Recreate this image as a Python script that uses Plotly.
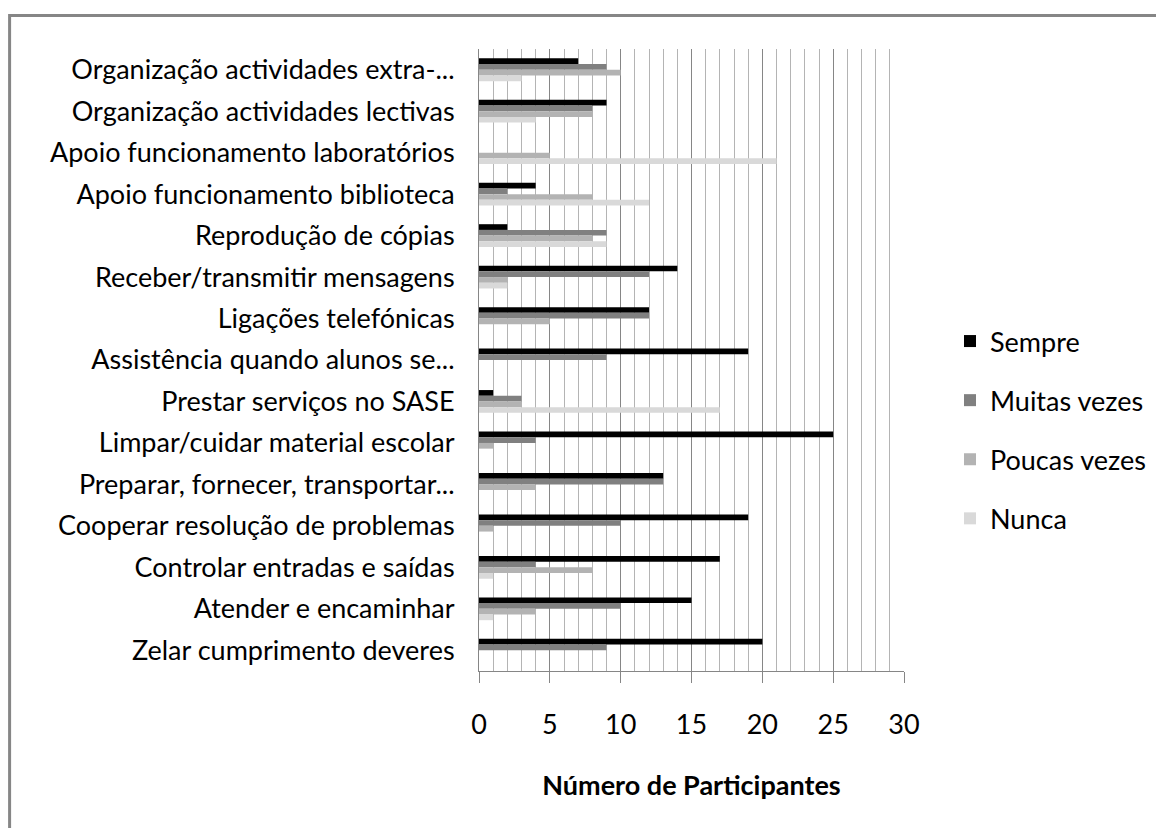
import plotly.graph_objects as go

categories = [
    "Organização actividades extra-...",
    "Organização actividades lectivas",
    "Apoio funcionamento laboratórios",
    "Apoio funcionamento biblioteca",
    "Reprodução de cópias",
    "Receber/transmitir mensagens",
    "Ligações telefónicas",
    "Assistência quando alunos se...",
    "Prestar serviços no SASE",
    "Limpar/cuidar material escolar",
    "Preparar, fornecer, transportar...",
    "Cooperar resolução de problemas",
    "Controlar entradas e saídas",
    "Atender e encaminhar",
    "Zelar cumprimento deveres",
]

sempre = [7, 9, 0, 4, 2, 14, 12, 19, 1, 25, 13, 19, 17, 15, 20]
muitas_vezes = [9, 8, 0, 2, 9, 12, 12, 9, 3, 4, 13, 10, 4, 10, 9]
poucas_vezes = [10, 8, 5, 8, 8, 2, 5, 0, 3, 1, 4, 1, 8, 4, 0]
nunca = [3, 4, 21, 12, 9, 2, 0, 0, 17, 0, 0, 0, 1, 1, 0]

series_names = ["Sempre", "Muitas vezes", "Poucas vezes", "Nunca"]
series_values = [sempre, muitas_vezes, poucas_vezes, nunca]
series_colors = ["#000000", "#808080", "#b3b3b3", "#d9d9d9"]

x_ticks = [0, 5, 10, 15, 20, 25, 30]
x_title = "Número de Participantes"

FONT = "Lato"
FS = 27
OFF = 8  # page body margin
W, H = 1164 - 2 * OFF, 836 - 2 * OFF
L, R, T, B = 479 - OFF, 904 - OFF, 49 - OFF, 671 - OFF

fig = go.Figure()
for name, vals, col in zip(series_names, series_values, series_colors):
    fig.add_trace(go.Bar(
        y=categories, x=vals, name=name, orientation="h",
        marker=dict(color=col, line=dict(width=0)),
        legendgroup=name,
    ))

def px_x(p):
    return (p - OFF - L) / (R - L)

def px_y(p):
    return (B - (p - OFF)) / (B - T)

fig.update_layout(
    width=W, height=H,
    margin=dict(l=L, r=W - R, t=T, b=H - B, pad=0, autoexpand=False),
    paper_bgcolor="white", plot_bgcolor="white",
    barmode="group", bargap=0.45, bargroupgap=0,
    font=dict(family=FONT, size=FS, color="#000000"),
    showlegend=True,
    legend=dict(
        x=px_x(950), y=px_y(430), xanchor="left", yanchor="middle",
        traceorder="grouped", tracegroupgap=21,
        font=dict(family=FONT, size=FS, color="#000000"),
        bgcolor="rgba(0,0,0,0)",
    ),
    xaxis=dict(
        range=[0, 30], tickvals=x_ticks, ticktext=[str(t) for t in x_ticks],
        showgrid=True, gridcolor="#868686", gridwidth=1,
        minor=dict(dtick=1, showgrid=True, gridcolor="#b4b4b4", gridwidth=1),
        showline=True, linecolor="#868686", linewidth=1,
        ticks="outside", ticklen=11, tickcolor="#868686",
        ticklabelstandoff=19,
        zeroline=False, automargin=False,
        title=dict(text="<b>" + x_title + "</b>", standoff=36,
                   font=dict(family=FONT, size=FS, color="#000000")),
        tickfont=dict(family=FONT, size=FS, color="#000000"),
    ),
    yaxis=dict(
        autorange="reversed", type="category", automargin=False,
        showline=True, linecolor="#868686", linewidth=1,
        showgrid=False, ticks="", ticklabelstandoff=18,
        tickfont=dict(family=FONT, size=FS, color="#000000"),
    ),
    shapes=[dict(
        type="rect", xref="paper", yref="paper",
        x0=px_x(9.6), x1=px_x(1190), y0=px_y(870), y1=px_y(15.5),
        line=dict(color="#868686", width=3), fillcolor="rgba(0,0,0,0)",
        layer="below",
    )],
)

fig.write_html("out.html")
